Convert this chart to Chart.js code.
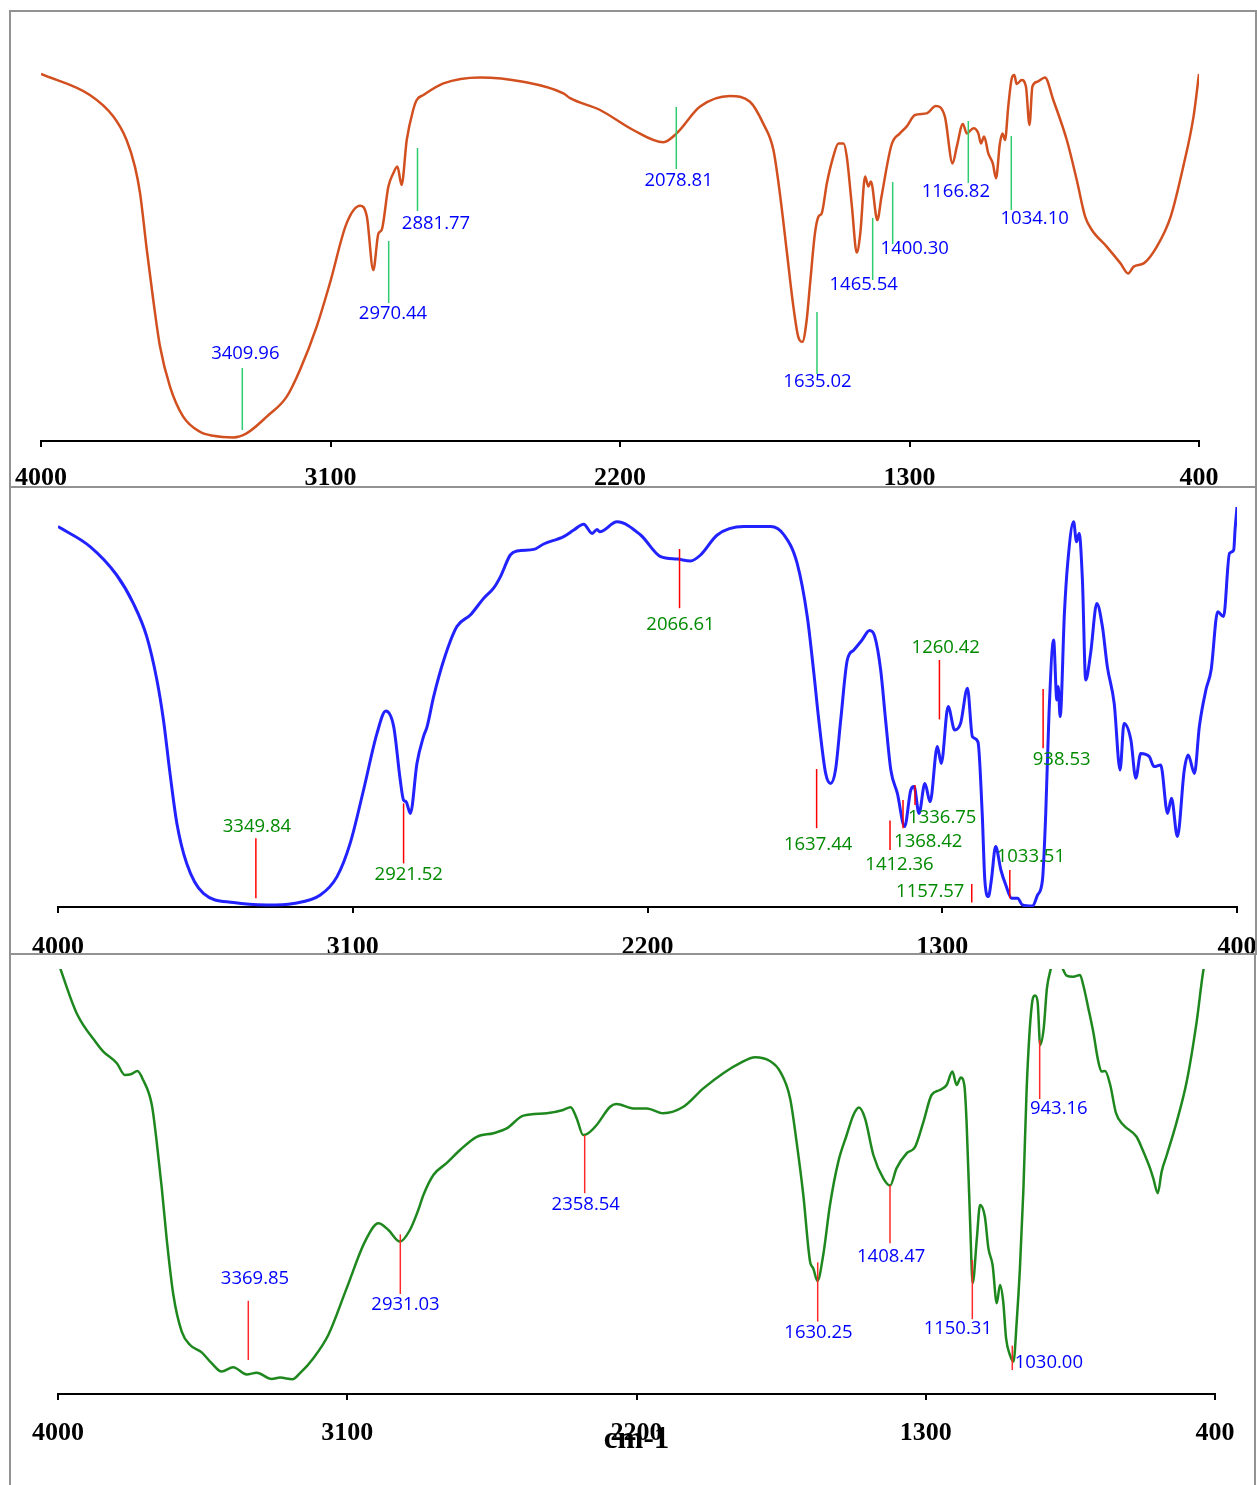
<!DOCTYPE html>
<html><head><meta charset="utf-8">
<script src="https://cdn.jsdelivr.net/npm/chart.js@4.4.0/dist/chart.umd.min.js"></script>
<style>
html,body{margin:0;padding:0;background:#fff;}
#wrap{position:relative;width:1257px;height:1485px;overflow:hidden;background:#fff;}
canvas{position:absolute;left:0;}
.box{position:absolute;border:2px solid #929292;box-sizing:border-box;pointer-events:none;}
</style></head><body>
<div id="wrap">
<canvas id="c1" width="1257" height="487" style="top:0;width:1257px;height:487px"></canvas>
<canvas id="c2" width="1257" height="467" style="top:487px;width:1257px;height:467px"></canvas>
<canvas id="c3" width="1257" height="531" style="top:954px;width:1257px;height:531px"></canvas>
<div class="box" style="left:9px;top:10px;width:1248px;height:478px"></div>
<div class="box" style="left:9px;top:486px;width:1248px;height:469px"></div>
<div class="box" style="left:9px;top:953px;width:1247px;height:560px"></div>
</div>
<script>
// ---- x axis ticks (wavenumber, cm-1) ----
const tickValues = [4000, 3100, 2200, 1300, 400];
const axisTitle = 'cm-1';

// ---- Spectrum 1 (orange) : wavenumber / relative transmittance ----
const wn1 = [4000,3848,3775,3734,3708,3692,3671,3651,3630,3599,3558,3506,3464,3402,3361,3298,3236,3195,3143,3102,3050,3008,2987,2967,2951,2941,2920,2905,2892,2879,2863,2843,2832,2811,2749,2635,2501,2376,2355,2262,2159,2065,2024,1951,1858,1796,1755,1723,1703,1682,1661,1646,1633,1620,1609,1594,1583,1573,1557,1537,1521,1505,1495,1479,1464,1453,1438,1428,1420,1400,1387,1356,1330,1309,1283,1247,1218,1190,1166,1153,1134,1122,1101,1086,1078,1068,1055,1041,1031,1019,1011,1003,993,982,974,967,951,938,927,918,903,879,853,811,780,754,733,687,644,620,603,572,531,488,449,417,400];
const t1 = [91.75,86.5,81.1,75.25,68.6,61.9,47.75,35.25,23.6,13.6,6.1,2.3,1.3,0.9,1.9,6.1,11.1,17.75,28.6,39.4,54.4,58.8,56.1,42.75,51.9,52.75,63.6,66.9,68.6,64,75.25,82.75,85.25,86.5,89.4,90.9,89.8,86.9,85.7,82.75,77.75,74.7,76.9,83.6,86.25,84.8,79.4,72.75,61.9,47.75,33.6,26.1,24.8,30,39.4,51.9,56.1,56.9,64.4,71.1,74.4,74.4,71.1,58.6,47.1,51.9,66.1,63.6,64.9,55.25,61.1,74,76.9,78.6,81.5,81.9,83.75,81.1,69.4,73.6,79.25,76.9,78.2,76.9,74.4,76.1,71.9,69.4,65.7,74.4,76.9,75.25,83.6,90.7,91.5,89.25,90.25,88.6,79,88.6,89.8,90.9,85.25,75.25,65.25,56.1,52.75,48.6,44.4,41.9,43.6,44.4,48.6,56.1,68.6,81.1,91.75];

// ---- Spectrum 2 (blue) ----
const wn2 = [4000,3902,3821,3770,3729,3698,3678,3658,3637,3607,3556,3464,3362,3281,3199,3148,3108,3067,3026,2999,2975,2955,2945,2937,2924,2904,2884,2873,2853,2822,2782,2741,2700,2670,2649,2619,2598,2547,2517,2456,2425,2395,2369,2354,2346,2293,2221,2160,2109,2069,2038,1987,1906,1824,1783,1743,1712,1692,1677,1656,1641,1626,1610,1590,1570,1545,1522,1506,1488,1473,1457,1437,1415,1396,1386,1371,1353,1337,1315,1303,1282,1262,1244,1223,1208,1191,1178,1170,1159,1150,1137,1121,1106,1088,1070,1055,1024,1009,994,984,974,960,950,946,940,927,917,899,890,882,872,862,847,828,811,796,775,757,745,724,709,694,668,653,633,612,600,582,561,549,530,515,495,479,459,441,423,410,406,400];
const t2 = [95.1,90.1,83,75.9,67.6,56.75,46.75,33.4,20.9,10.9,3.4,1.1,0.5,0.9,3,7.6,15.9,29.25,43.4,49,45.1,31.75,26.75,26.3,23.4,35.9,42.6,45.1,52.6,61.75,70.1,73,77.2,79.7,82.6,88,89,89.4,90.75,92.6,94.25,95.7,93.4,94.4,93.8,96.3,93,87.6,87,86.5,88,93,95.1,95.1,93,85.9,72.5,58.4,46.75,33.4,30.9,34.25,46.75,61.75,64.25,66.75,69.1,67.6,59.25,46.75,34.25,28.4,20.1,29.25,30.1,23.4,30.9,26.3,40.1,35.9,50.1,44.25,45.9,54.7,42.6,41.3,23.4,6.75,2.6,6.75,15.1,9.25,5.5,2.2,2.2,0.5,0.25,3,6.75,23.4,48.4,66.75,51.75,55.1,47.6,73.4,85.9,96.3,91.3,93.4,81.75,56.75,63.4,75.9,70.1,60.1,50.9,34.25,45.9,41.75,32.2,38.4,37.6,35.1,35.5,23.4,27.2,17.6,34.25,38,33.4,45.1,54.25,59.25,73.8,72.6,88.4,89.25,94.25,100];

// ---- Spectrum 3 (green) ----
const wn3 = [4000,3942,3880,3859,3817,3792,3771,3753,3735,3708,3693,3677,3662,3641,3615,3589,3553,3522,3491,3455,3413,3382,3335,3309,3270,3247,3206,3159,3102,3045,3003,2972,2936,2905,2879,2863,2832,2791,2749,2697,2645,2604,2552,2479,2428,2405,2386,2366,2350,2324,2282,2262,2210,2168,2117,2054,1992,1930,1878,1831,1785,1753,1722,1702,1681,1660,1650,1637,1619,1598,1572,1546,1525,1508,1489,1463,1432,1411,1391,1359,1333,1307,1282,1256,1235,1217,1204,1191,1180,1173,1162,1154,1141,1131,1116,1105,1092,1079,1069,1059,1050,1038,1027,1017,1007,996,986,970,960,952,944,933,923,913,893,872,862,841,820,810,794,779,763,753,742,726,708,685,644,623,602,592,578,566,550,519,488,457,436,400];
const t3 = [108,95.2,87.7,85.6,82.7,79.75,80,80.75,78.5,72.25,63.1,51.4,38.9,24.75,15.6,12.25,10.4,7.7,5.6,6.7,4.9,5.3,3.75,4.1,3.7,5.2,8.9,14.75,26.4,38.1,42.7,41,38.1,41,46,49.75,54.75,57.7,61,64.3,65.2,66.4,69.6,70.2,71,71.7,68.9,64.75,65.2,67.25,71.8,72.5,71.4,71.4,70.2,71.8,76.4,80.2,82.7,84.2,83.25,80.6,73.9,63.1,49.75,33.1,31.4,28.25,34.75,47.25,58.1,64.75,69.75,71.6,68.9,59.75,53.9,52.1,56.4,60.2,61.8,68.1,74.75,76,77.25,80.6,77.25,79.1,77.25,68.1,43.1,27.7,38.9,47.25,44.3,36.4,32.25,22.7,27.25,23.1,13.9,9.75,8.1,18.1,31.4,51.4,76.4,97.25,99.6,98.1,87.25,91.4,101.4,105.6,110,106,104.6,104.3,104.75,102.25,96.4,90.6,83.1,80.6,80.75,77.25,70.2,67.25,64.3,60.6,56.4,53.9,50.2,55.6,59.75,68.1,78.1,93.1,106,118];

// ---- Peak annotations: label, marker wavenumber, marker top/bottom, label position ----
const peaks1 = [
 {text:'3409.96', lx:3374.2, y1:18.25, y2:2.75, tx:3364.9, ty:21.75},
 {text:'2970.44', lx:2919.1, y1:50, y2:34.5, tx:2905.7, ty:31.75},
 {text:'2881.77', lx:2829.5, y1:73.25, y2:57.5, tx:2772, ty:54.25},
 {text:'2078.81', lx:2025, y1:83.5, y2:68, tx:2018, ty:65},
 {text:'1635.02', lx:1587.6, y1:32.25, y2:16.75, tx:1586, ty:14.75},
 {text:'1465.54', lx:1414.5, y1:55.75, y2:40.25, tx:1442.4, ty:39},
 {text:'1400.30', lx:1352.3, y1:64.75, y2:49.25, tx:1283.8, ty:48},
 {text:'1166.82', lx:1117.2, y1:80, y2:64.5, tx:1156, ty:62.25},
 {text:'1034.10', lx:983.5, y1:76.25, y2:57.75, tx:910.8, ty:55.5}
];
const peaks2 = [
 {text:'3349.84', lx:3395.8, y1:17.2, y2:2.2, tx:3392.5, ty:20.1},
 {text:'2921.52', lx:2944.8, y1:25.9, y2:10.9, tx:2928.9, ty:8},
 {text:'2066.61', lx:2102.2, y1:89.5, y2:74.7, tx:2099.2, ty:70.5},
 {text:'1637.44', lx:1683.6, y1:34.5, y2:19.7, tx:1679, ty:15.5},
 {text:'1260.42', lx:1308.6, y1:61.75, y2:46.9, tx:1289.3, ty:64.7},
 {text:'1336.75', lx:1383.2, y1:30.5, y2:25.5, tx:1300, ty:22.2},
 {text:'1368.42', lx:1419.8, y1:26.75, y2:19.7, tx:1342.8, ty:16.3},
 {text:'1412.36', lx:1459.5, y1:21.6, y2:14.25, tx:1430.5, ty:10.5},
 {text:'1157.57', lx:1209.9, y1:5.75, y2:1.1, tx:1336.7, ty:3.8},
 {text:'1033.51', lx:1093.7, y1:9.25, y2:2.2, tx:1029.6, ty:12.6},
 {text:'938.53', lx:992, y1:54.5, y2:39.7, tx:935.4, ty:36.75}
];
const peaks3 = [
 {text:'3369.85', lx:3407.9, y1:23.3, y2:8.5, tx:3387, ty:28.9},
 {text:'2931.03', lx:2934.9, y1:39.9, y2:25, tx:2918.8, ty:22.4},
 {text:'2358.54', lx:2361.2, y1:64.75, y2:50.2, tx:2357.8, ty:47.4},
 {text:'1630.25', lx:1636.2, y1:32.9, y2:18.1, tx:1633.7, ty:15.2},
 {text:'1408.47', lx:1411.2, y1:52.25, y2:37.7, tx:1407.5, ty:34.3},
 {text:'1150.31', lx:1155.1, y1:33.5, y2:18.7, tx:1200.3, ty:16.4},
 {text:'1030.00', lx:1030.7, y1:12.1, y2:6, tx:917.1, ty:7.9},
 {text:'943.16', lx:945.5, y1:88.5, y2:73.75, tx:886, ty:71.4}
];

const peakPlugin = {
  id: 'peaks',
  afterDatasetsDraw(chart, args, o) {
    const {ctx} = chart, x = chart.scales.x, y = chart.scales.y;
    ctx.save();
    ctx.lineWidth = 1.5;
    ctx.strokeStyle = o.lineColor;
    ctx.fillStyle = o.textColor;
    ctx.font = '18.5px "Open Sans", "Noto Sans", sans-serif';
    ctx.textAlign = 'center';
    ctx.textBaseline = 'middle';
    for (const p of o.items) {
      const px = x.getPixelForValue(p.lx);
      ctx.beginPath();
      ctx.moveTo(px, y.getPixelForValue(p.y1));
      ctx.lineTo(px, y.getPixelForValue(p.y2));
      ctx.stroke();
      ctx.fillText(p.text, x.getPixelForValue(p.tx), y.getPixelForValue(p.ty));
    }
    ctx.restore();
  }
};

function makeChart(id, wn, t, color, width, yMax, pad, axisH, tickPad, peaks, lineColor, textColor, title) {
  const pts = wn.map((w, i) => ({x: w, y: t[i]}));
  const xScale = {
    type: 'linear', reverse: true, min: 400, max: 4000,
    afterBuildTicks: s => { s.ticks = tickValues.map(v => ({value: v})); },
    afterFit: s => { s.height = axisH; s.paddingLeft = 0; s.paddingRight = 0; },
    ticks: {
      callback: v => String(v), color: '#000', padding: tickPad,
      maxRotation: 0, minRotation: 0, autoSkip: false,
      font: {family: '"Liberation Serif", "Times New Roman", serif', size: 26, weight: 'bold'}
    },
    grid: {display: true, drawOnChartArea: false, drawTicks: true, tickLength: 6, color: '#000', lineWidth: 2},
    border: {display: true, color: '#000', width: 2}
  };
  if (title) {
    xScale.title = {display: true, text: title, color: '#000',
      font: {family: '"Liberation Serif", "Times New Roman", serif', size: 31, weight: 'bold'},
      padding: {top: 0, bottom: 26}};
  }
  return new Chart(document.getElementById(id), {
    type: 'line',
    data: {datasets: [{data: pts, borderColor: color, borderWidth: width, pointRadius: 0,
      cubicInterpolationMode: 'monotone', fill: false}]},
    options: {
      responsive: false, animation: false, events: [],
      layout: {padding: pad},
      plugins: {legend: {display: false}, tooltip: {enabled: false},
        peaks: {items: peaks, lineColor: lineColor, textColor: textColor}},
      scales: {
        x: xScale,
        y: {type: 'linear', display: false, min: 0, max: yMax}
      }
    },
    plugins: [peakPlugin]
  });
}

makeChart('c1', wn1, t1, '#d24f1f', 2.5, 100, {left: 41, right: 58, top: 41, bottom: 0}, 46, 16,
  peaks1, '#2ecc71', '#0000ff', null);
makeChart('c2', wn2, t2, '#2222ff', 3, 100, {left: 58, right: 20, top: 20, bottom: 0}, 47, 19,
  peaks2, '#ff0000', '#008a00', null);
makeChart('c3', wn3, t3, '#1e881e', 2.5, 106.25, {left: 58, right: 42, top: 15, bottom: 0}, 91, 18,
  peaks3, '#ff2a2a', '#0000ff', axisTitle);
</script>
</body></html>
